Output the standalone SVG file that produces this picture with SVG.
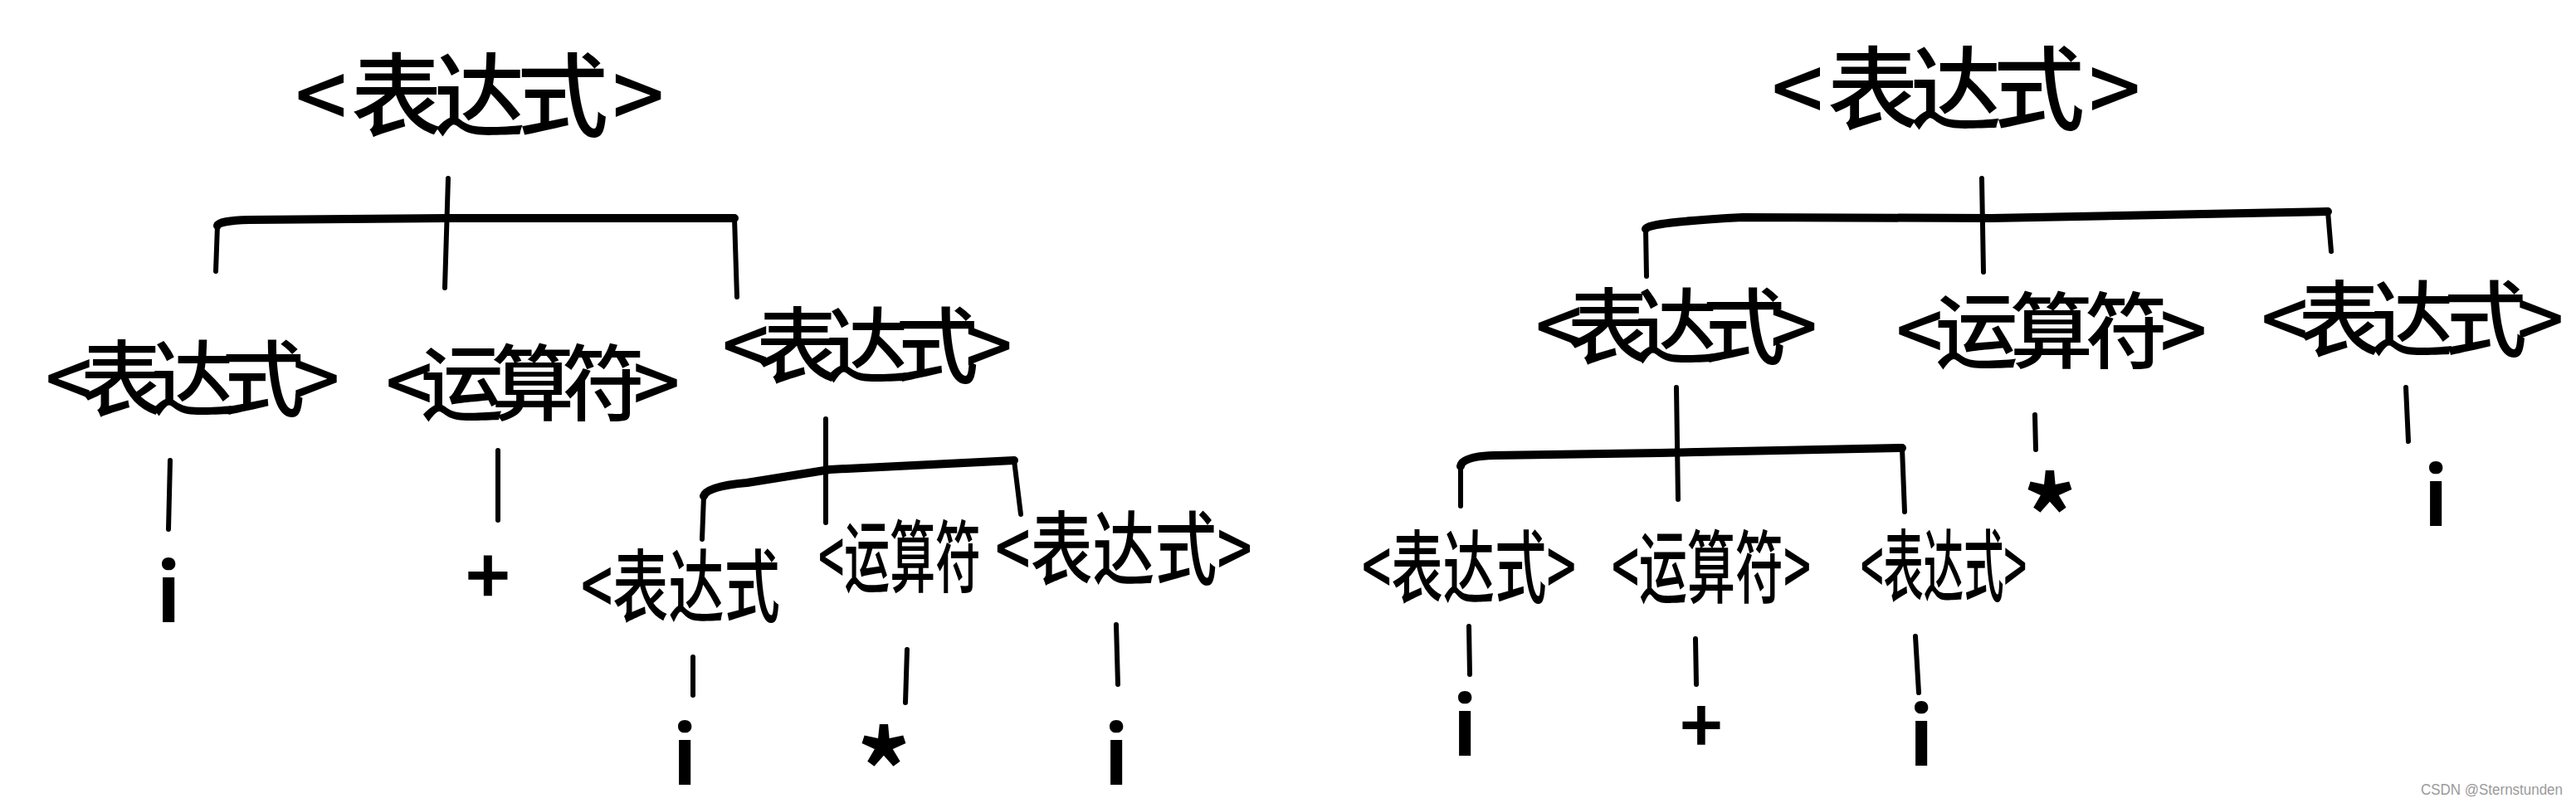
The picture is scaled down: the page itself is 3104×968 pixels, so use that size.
<svg xmlns="http://www.w3.org/2000/svg" width="3104" height="968" viewBox="0 0 3104 968">
<style>
.n{font-family:"Noto Sans CJK SC","Noto Sans",sans-serif;fill:#000;text-anchor:middle;dominant-baseline:central;font-weight:500}
.lf{font-family:"Noto Sans CJK SC","Liberation Sans",sans-serif;fill:#000;text-anchor:middle;font-weight:700}
.e{fill:none;stroke:#000;stroke-width:6;stroke-linecap:round;stroke-linejoin:round}
.b{fill:none;stroke:#000;stroke-width:10;stroke-linecap:round;stroke-linejoin:round}
.wm{font-family:"Liberation Sans",Arial,sans-serif;font-size:18px;fill:#9a9a9a}
</style>
<rect width="3104" height="968" fill="#fff"/>
<g id="connectors">
<!-- left tree -->
<path class="b" d="M262 272 Q264 266 300 265 L540 263 L885 263"/>
<path class="e" d="M260 327 L262 272 M885 263 L888 358 M540 215 L536 347"/>
<path class="e" d="M205 555 L203 638 M600 543 L600 627"/>
<path class="b" d="M848 598 Q852 586 900 582 L1000 566 L1222 555"/>
<path class="e" d="M846 650 L848 598 M1222 555 L1230 620 M995 505 L995 630"/>
<path class="e" d="M835 792 L835 838 M1093 783 L1091 847 M1345 753 L1347 825"/>
<!-- right tree -->
<path class="b" d="M1983 276 Q1986 268 2100 262 L2400 263 L2805 255"/>
<path class="e" d="M1984 333 L1983 276 M2805 255 L2809 303 M2388 215 L2390 328"/>
<path class="b" d="M1760 562 Q1762 550 1800 549 L2000 546 L2292 540"/>
<path class="e" d="M1760 610 L1760 562 M2292 540 L2295 617 M2020 467 L2022 602"/>
<path class="e" d="M2452 500 L2453 542 M2899 467 L2902 532"/>
<path class="e" d="M1770 755 L1771 813 M2043 770 L2044 825 M2308 767 L2312 835"/>
</g>
<!-- left tree nodes -->
<g id="L-root"><text class="n" x="578" y="108" font-size="110" textLength="445" lengthAdjust="spacing">&lt; 表达式 &gt;</text></g>
<g id="L-expr1"><text class="n" x="232" y="450" font-size="100" textLength="355" lengthAdjust="spacing">&lt;表达式&gt;</text></g>
<g id="L-op1"><text class="n" x="642" y="455" font-size="100" textLength="355" lengthAdjust="spacing">&lt;运算符&gt;</text></g>
<g id="L-expr2"><text class="n" x="1045" y="410" font-size="100" textLength="350" lengthAdjust="spacing">&lt;表达式&gt;</text></g>
<g id="L-i1"><text class="lf" x="203" y="750" font-size="96">i</text></g>
<g id="L-plus1"><text class="lf" x="588" y="728" font-size="92">+</text></g>
<g id="L-expr3"><text class="n" transform="translate(820 700) scale(1 1.41)" x="0" y="0" font-size="68" textLength="240" lengthAdjust="spacingAndGlyphs">&lt;表达式</text></g>
<g id="L-op2"><text class="n" transform="translate(1084 665) scale(1 1.7)" x="0" y="0" font-size="56" textLength="196" lengthAdjust="spacingAndGlyphs">&lt;运算符</text></g>
<g id="L-expr4"><text class="n" transform="translate(1354 655) scale(1 1.25)" x="0" y="0" font-size="77" textLength="310" lengthAdjust="spacingAndGlyphs">&lt;表达式&gt;</text></g>
<g id="L-i2"><text class="lf" x="825" y="946" font-size="96">i</text></g>
<g id="L-star"><text class="lf" x="1065" y="978" font-size="130">*</text></g>
<g id="L-i3"><text class="lf" x="1345" y="946" font-size="96">i</text></g>
<!-- right tree nodes -->
<g id="R-root"><text class="n" x="2357" y="100" font-size="110" textLength="445" lengthAdjust="spacing">&lt; 表达式 &gt;</text></g>
<g id="R-expr1"><text class="n" x="2020" y="387" font-size="100" textLength="340" lengthAdjust="spacing">&lt;表达式&gt;</text></g>
<g id="R-op1"><text class="n" x="2472" y="392" font-size="100" textLength="375" lengthAdjust="spacing">&lt;运算符&gt;</text></g>
<g id="R-expr2"><text class="n" x="2907" y="378" font-size="100" textLength="365" lengthAdjust="spacing">&lt;表达式&gt;</text></g>
<g id="R-star"><text class="lf" x="2470" y="672" font-size="130">*</text></g>
<g id="R-i1"><text class="lf" x="2935" y="634" font-size="96">i</text></g>
<g id="R-expr3"><text class="n" transform="translate(1770 677) scale(1 1.5)" x="0" y="0" font-size="64" textLength="258" lengthAdjust="spacingAndGlyphs">&lt;表达式&gt;</text></g>
<g id="R-op2"><text class="n" transform="translate(2062 677) scale(1 1.6)" x="0" y="0" font-size="60" textLength="240" lengthAdjust="spacingAndGlyphs">&lt;运算符&gt;</text></g>
<g id="R-expr4"><text class="n" transform="translate(2342 677) scale(1 1.9)" x="0" y="0" font-size="50" textLength="200" lengthAdjust="spacingAndGlyphs">&lt;表达式&gt;</text></g>
<g id="R-i2"><text class="lf" x="1765" y="911" font-size="96">i</text></g>
<g id="R-plus"><text class="lf" x="2050" y="907" font-size="88">+</text></g>
<g id="R-i3"><text class="lf" x="2315" y="923" font-size="96">i</text></g>
<text class="wm" x="2917" y="958" textLength="171" lengthAdjust="spacingAndGlyphs">CSDN @Sternstunden</text>
</svg>
